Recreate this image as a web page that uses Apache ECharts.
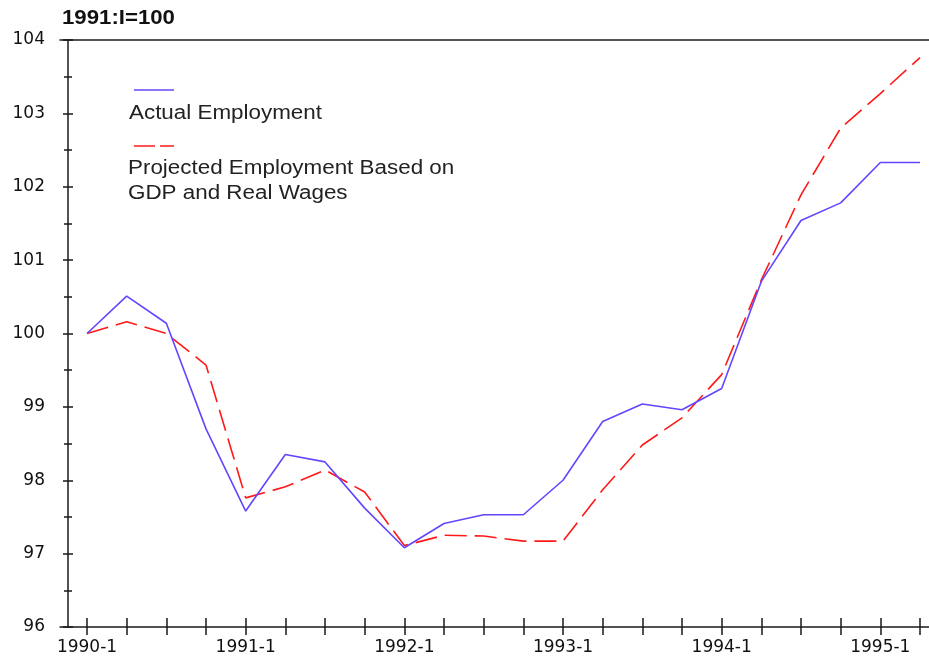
<!DOCTYPE html>
<html>
<head>
<meta charset="utf-8">
<script src="https://cdn.jsdelivr.net/npm/echarts@6/dist/echarts.min.js"></script>
<style>html,body{margin:0;padding:0;background:#fff}#c{width:929px;height:662px}</style>
</head>
<body>
<div id="c"></div>
<script>
const quarters = ["1990-1","1990-2","1990-3","1990-4","1991-1","1991-2","1991-3","1991-4",
  "1992-1","1992-2","1992-3","1992-4","1993-1","1993-2","1993-3","1993-4",
  "1994-1","1994-2","1994-3","1994-4","1995-1","1995-2"];
const actual = [100.0,100.51,100.14,98.70,97.58,98.35,98.25,97.62,97.08,97.41,97.53,97.53,
  98.0,98.8,99.04,98.96,99.25,100.71,101.54,101.78,102.33,102.33];
const projected = [100.0,100.16,100.0,99.57,97.76,97.91,98.14,97.84,97.11,97.25,97.24,97.17,
  97.17,97.87,98.48,98.85,99.44,100.73,101.89,102.8,103.27,103.76];
const labelQuarters = ["1990-1","1991-1","1992-1","1993-1","1994-1","1995-1"];
const yTicks = [96,97,98,99,100,101,102,103,104];

const idx = quarters.map((q,i)=>i);
const labelIdx = labelQuarters.map(q=>quarters.indexOf(q));
const chart = echarts.init(document.getElementById('c'), null, {renderer:'canvas'});
const axisColor = '#1a1a1a';
const xMin = -0.681, xMax = 21.227;
const tickFont = {fontFamily:'DejaVu Sans', fontSize:17, color:'#111'};

chart.setOption({
  animation:false,
  backgroundColor:'#fff',
  grid:{left:60, right:0, top:40, bottom:35, containLabel:false},
  xAxis:[
    {type:'value', min:xMin, max:xMax, position:'bottom',
     axisLine:{show:true, onZero:false, lineStyle:{color:axisColor, width:1.5}},
     axisTick:{show:true, inside:false, length:8, customValues:idx, lineStyle:{color:axisColor, width:1.5}},
     axisLabel:{show:true, margin:12, customValues:labelIdx, formatter:v=>quarters[Math.round(v)], ...tickFont},
     splitLine:{show:false}},
    {type:'value', min:xMin, max:xMax, position:'bottom',
     axisLine:{show:false, onZero:false},
     axisTick:{show:true, inside:true, length:9, customValues:idx, lineStyle:{color:axisColor, width:1.5}},
     axisLabel:{show:false}, splitLine:{show:false}},
    {type:'value', min:xMin, max:xMax, position:'top',
     axisLine:{show:true, onZero:false, lineStyle:{color:axisColor, width:1.5}},
     axisTick:{show:false}, axisLabel:{show:false}, splitLine:{show:false}}
  ],
  yAxis:[
    {type:'value', min:yTicks[0], max:yTicks[yTicks.length-1], interval:1, position:'left', offset:-8,
     axisLine:{show:true, onZero:false, lineStyle:{color:axisColor, width:1.5}},
     axisTick:{show:true, inside:false, length:5, lineStyle:{color:axisColor, width:1.5}},
     minorTick:{show:true, splitNumber:2, length:4, lineStyle:{color:axisColor, width:1.5}},
     axisLabel:{show:true, margin:23, ...tickFont},
     splitLine:{show:false}, minorSplitLine:{show:false}},
    {type:'value', min:yTicks[0], max:yTicks[yTicks.length-1], interval:1, position:'left', offset:-8,
     axisLine:{show:false, onZero:false},
     axisTick:{show:true, inside:true, length:5, lineStyle:{color:axisColor, width:1.5}},
     minorTick:{show:true, splitNumber:2, length:4, lineStyle:{color:axisColor, width:1.5}},
     axisLabel:{show:false}, splitLine:{show:false}, minorSplitLine:{show:false}}
  ],
  series:[
    {type:'line', name:'Actual Employment', xAxisIndex:0, yAxisIndex:0,
     data:actual.map((v,i)=>[idx[i], v]), showSymbol:false, symbol:'none',
     lineStyle:{color:'#6446ff', width:1.6}, z:3},
    {type:'line', name:'Projected Employment Based on GDP and Real Wages', xAxisIndex:0, yAxisIndex:0,
     data:projected.map((v,i)=>[idx[i], v]), showSymbol:false, symbol:'none',
     lineStyle:{color:'#ff1a1a', width:1.6, type:[22,8]}, z:2}
  ],
  graphic:[
    {type:'text', left:62, top:8, scaleX:1.11, style:{text:'1991:I=100', fontFamily:'Liberation Sans', fontWeight:'bold', fontSize:20, fill:'#111'}},
    {type:'line', shape:{x1:134, y1:90, x2:174, y2:90}, style:{stroke:'#6446ff', lineWidth:1.6}},
    {type:'text', x:129, y:113, scaleX:1.12, style:{text:'Actual Employment', fontFamily:'Liberation Sans', fontSize:20, fill:'#222', verticalAlign:'middle'}},
    {type:'line', shape:{x1:134, y1:146, x2:174, y2:146}, style:{stroke:'#ff1a1a', lineWidth:1.6, lineDash:[21,5]}},
    {type:'text', x:128, y:168, scaleX:1.12, style:{text:'Projected Employment Based on', fontFamily:'Liberation Sans', fontSize:20, fill:'#222', verticalAlign:'middle'}},
    {type:'text', x:128, y:193, scaleX:1.12, style:{text:'GDP and Real Wages', fontFamily:'Liberation Sans', fontSize:20, fill:'#222', verticalAlign:'middle'}}
  ]
});
</script>
</body>
</html>
